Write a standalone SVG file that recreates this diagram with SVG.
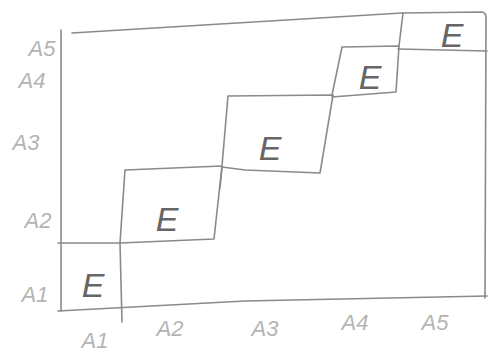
<svg xmlns="http://www.w3.org/2000/svg" width="490" height="357" viewBox="0 0 490 357">
<style>
.ln{fill:none;stroke:#8a8a8a;stroke-width:1.6;stroke-linecap:round;stroke-linejoin:round}
.e{font-family:"Liberation Sans",sans-serif;font-size:34px;fill:#666;font-style:italic;text-anchor:middle}
.lb{font-family:"Liberation Sans",sans-serif;font-size:22px;fill:#b4b4b4;font-style:italic;text-anchor:middle}
</style>
<rect width="490" height="357" fill="#fff"/>
<g id="connectors">
<path class="ln" d="M61,30 L61,311"/>
<path class="ln" d="M72,33 L402,13 L482,12 Q487,13 486,20 L485,298"/>
<path class="ln" d="M58,311 L245,301 L487,296"/>
</g>
<g id="block1">
<path class="ln" d="M58,243 L120,243 L122,322"/>
<text class="e" x="93" y="297">E</text>
</g>
<g id="block2">
<path class="ln" d="M120,243 L125,170 L222,166 L214,239 L120,243"/>
<text class="e" x="167" y="231">E</text>
</g>
<g id="block3">
<path class="ln" d="M222,166 L228,96 L333,95 L320,173 L245,170 L222,167 L220,188"/>
<text class="e" x="270" y="160">E</text>
</g>
<g id="block4">
<path class="ln" d="M332,95 L342,47 L399,46 L396,92 L332,97"/>
<text class="e" x="370" y="89">E</text>
</g>
<g id="block5">
<path class="ln" d="M399,46 L403,13 M398,49 L487,51"/>
<text class="e" x="452" y="47">E</text>
</g>
<g id="labels">
<text class="lb" x="42" y="56">A5</text>
<text class="lb" x="32" y="88">A4</text>
<text class="lb" x="26" y="150">A3</text>
<text class="lb" x="38" y="228">A2</text>
<text class="lb" x="35" y="302">A1</text>
<text class="lb" x="95" y="348">A1</text>
<text class="lb" x="170" y="336">A2</text>
<text class="lb" x="265" y="336">A3</text>
<text class="lb" x="355" y="330">A4</text>
<text class="lb" x="435" y="330">A5</text>
</g>
</svg>
